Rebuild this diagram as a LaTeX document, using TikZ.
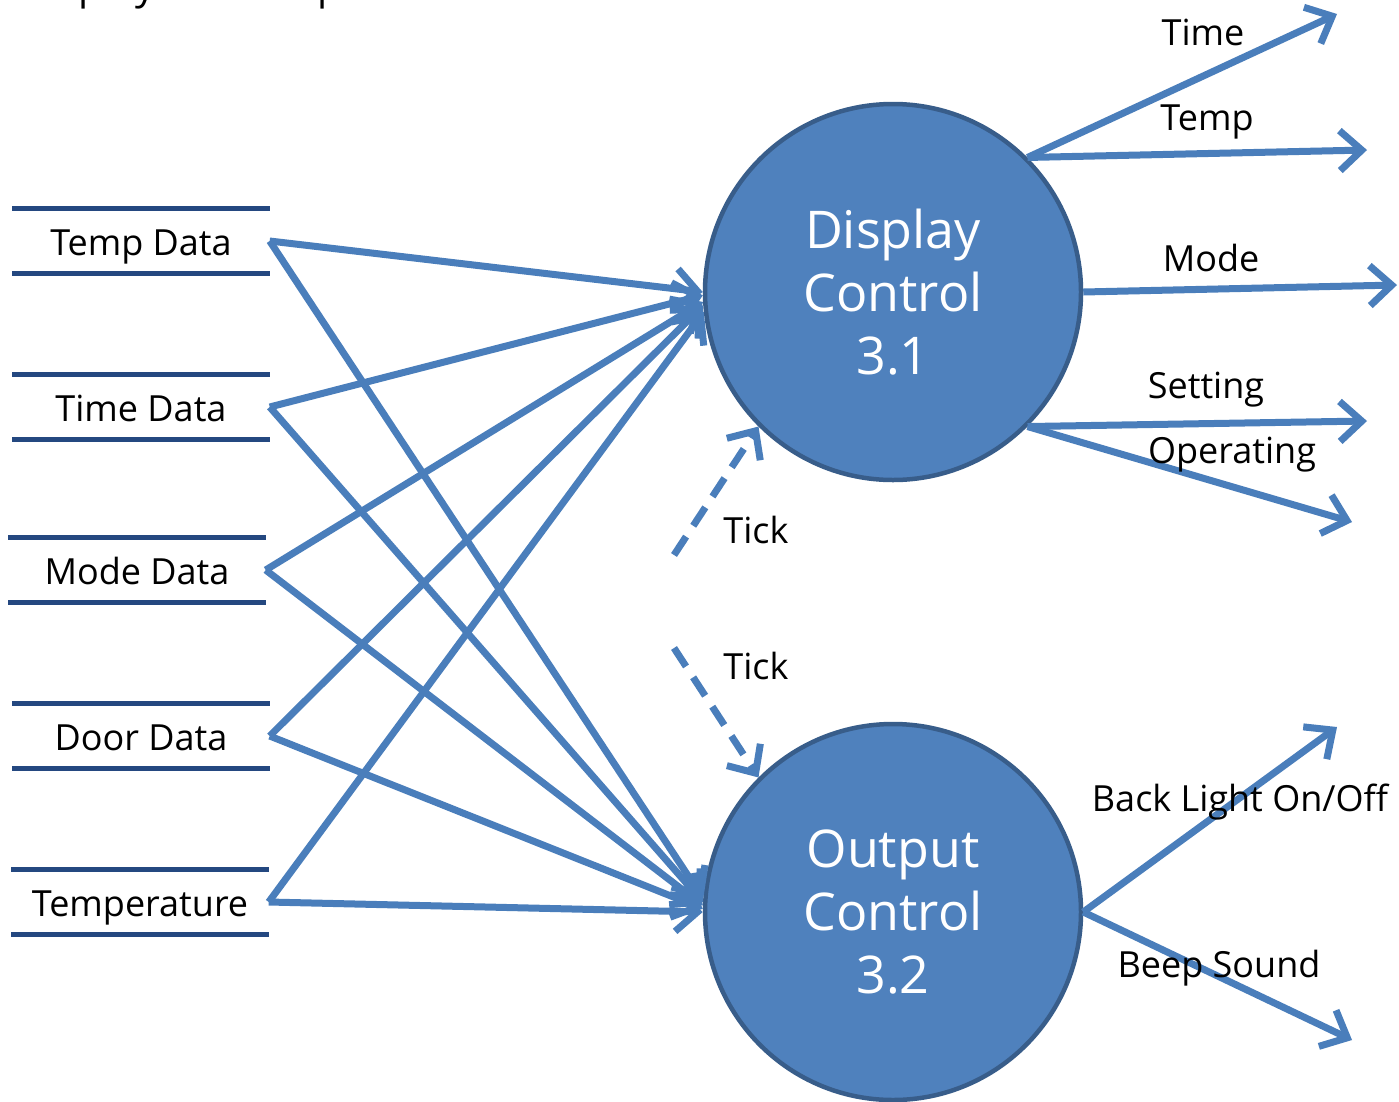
\documentclass[tikz,border=0pt]{standalone}
\usepackage{fontspec}
\setmainfont{Open Sans}
\usetikzlibrary{arrows.meta}

\definecolor{flowblue}{RGB}{74,126,187}
\definecolor{procfill}{RGB}{79,129,189}
\definecolor{procline}{RGB}{56,93,138}
\definecolor{storeline}{RGB}{36,72,128}

\begin{document}
\begin{tikzpicture}[x=1pt,y=-1pt,>={Straight Barb[length=22pt,width=40pt]},node distance=166pt,
        process/.style={circle,fill=procfill,draw=procline,line width=4.5pt,minimum size=376pt,inner sep=0pt,
            text=white,align=center,font=\fontsize{52}{63}\selectfont},
        store/.style={minimum width=257pt,minimum height=64pt,inner sep=0pt,text height=32pt,text depth=4pt,
            font=\fontsize{36}{40}\selectfont},
        flow/.style={->,line width=7pt,draw=flowblue},
        tickflow/.style={flow,dash pattern=on 22pt off 13pt},
        lbl/.style={inner sep=0pt,font=\fontsize{36}{40}\selectfont}]
        \useasboundingbox (0,0) rectangle (1399,1101);

        % title, cut off at the top edge
        \begin{scope}
            \clip (0,0) rectangle (1399,1101);
            \node[lbl,anchor=base west,font=\fontsize{40}{44}\selectfont] (title) at (20,-1) {Display and Output Control};
        \end{scope}

        \node[process] (dc) at (893,292) {Display\\Control\\3.1};
        \node[process] (oc) at (893,912) {Output\\Control\\3.2};

        \node[store] (s1) at (141,241) {Temp Data};
        \node[store] (s2) [below of=s1] {Time Data};
        \node[store] (s3) [below of=s2,xshift=-4pt,yshift=3pt] {Mode Data};
        \node[store] (s4) [below of=s3,xshift=4pt] {Door Data};
        \node[store] (s5) [below of=s4,xshift=-1pt] {Temperature};

        \foreach \s in {s1,s2,s3,s4,s5}{
            \draw[storeline,line width=5pt] (\s.north west) -- (\s.north east) (\s.south west) -- (\s.south east);
        }

        \foreach \s/\a/\b in {s1/180/176,s2/181.5/177,s3/183/178,s4/184.5/179,s5/186/180}{
            \draw[flow] (\s.east) -- (dc.\a);
            \draw[flow] (\s.east) -- (oc.\b);
        }

        % outgoing flows
        \coordinate (time) at (1337,14);
        \coordinate (temp) at (1367,150);
        \coordinate (mode) at (1397,285);
        \coordinate (setting) at (1367,421);
        \coordinate (operating) at (1352,522);
        \coordinate (light) at (1337,727);
        \coordinate (beep) at (1352,1040);
        \draw[flow] (dc.45) -- (time);
        \draw[flow] (dc.45) -- (temp);
        \draw[flow] (dc.east) -- (mode);
        \draw[flow] (dc.-45) -- (setting);
        \draw[flow] (dc.-45) -- (operating);
        \draw[flow] (oc.east) -- (light);
        \draw[flow] (oc.east) -- (beep);

        % clock ticks
        \coordinate (tick1) at (674,555);
        \coordinate (tick2) at (674,648);
        \draw[tickflow] (tick1) -- (dc.225);
        \draw[tickflow] (tick2) -- (oc.135);

        \node[lbl] (timel) at (1203,32) {Time};
        \node[lbl] (templ) at (1207,122) {Temp};
        \node[lbl] (model) at (1211,258) {Mode};
        \node[lbl] (settingl) at (1206,390) {Setting};
        \node[lbl] (operatingl) at (1232,455) {Operating};
        \node[lbl] (lightl) at (1240,802) {Back Light On/Off};
        \node[lbl] (beepl) at (1219,968) {Beep Sound};
        \node[lbl] (tick1l) at (756,530) {Tick};
        \node[lbl] (tick2l) at (756,666) {Tick};
\end{tikzpicture}
\end{document}
